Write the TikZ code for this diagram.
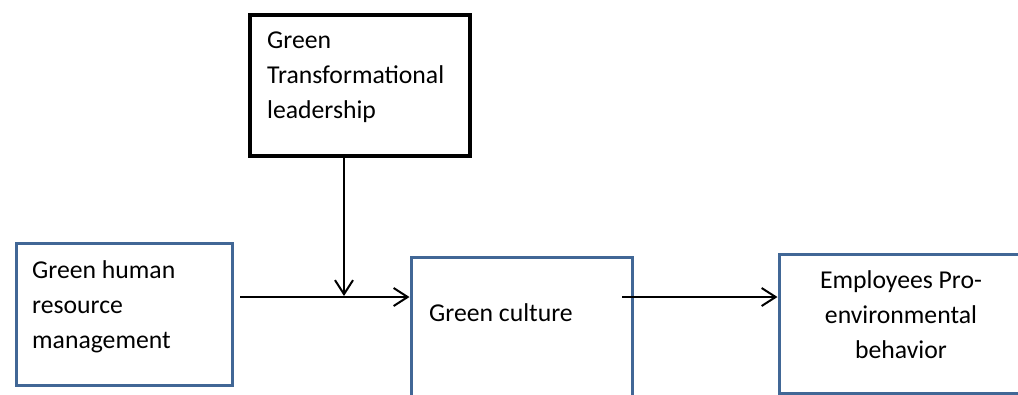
\documentclass[tikz,border=0pt]{standalone}
\usepackage{fontspec}
\setmainfont{Carlito}
\usetikzlibrary{arrows.meta}
\definecolor{boxblue}{RGB}{65,103,150}
\tikzset{
  bluebox/.style={draw=boxblue, line width=3.4pt, inner sep=0pt, anchor=north west},
  blackbox/.style={draw=black, line width=4pt, inner sep=0pt, anchor=north west},
  lbl/.style={inner sep=0pt, font=\fontsize{25.7}{35}\selectfont},
  arr/.style={line width=2pt, -{Straight Barb[length=14pt,width=18pt,line width=2pt]}}
}
\begin{document}
\begin{tikzpicture}[x=1pt,y=-1pt]
\useasboundingbox (0,0) rectangle (1018,394);
\clip (0,0) rectangle (1018,394);
% boxes
\node[blackbox, minimum width=220pt, minimum height=141pt] (gtl) at (248,13) {};
\node[bluebox, minimum width=216pt, minimum height=142pt] (ghrm) at (15,241.5) {};
\node[bluebox, minimum width=221pt, minimum height=170pt] (gc) at (409.5,255.5) {};
\node[bluebox, minimum width=250pt, minimum height=139pt] (epb) at (777.5,252.5) {};
% texts (anchored at the baseline of the last line)
\node[lbl, anchor=base west, align=left] (tgtl) at (267,118) {Green\\Transformational\\leadership};
\node[lbl, anchor=base west, align=left] (tghrm) at (32,348) {Green human\\resource\\management};
\node[lbl, anchor=base west] (tgc) at (429,321) {Green culture};
\node[lbl, anchor=base, align=center] (tepb) at (901,358) {Employees Pro-\\environmental\\behavior};
% connectors
\coordinate (a1s) at (240,297);
\coordinate (meet) at (344,296);
\coordinate (a2s) at (622,297);
\draw[arr] (gtl.south -| meet) -- (meet);
\draw[arr] (a1s) -- (gc.west |- a1s);
\draw[arr] (a2s) -- (epb.west |- a2s);
\end{tikzpicture}
\end{document}
